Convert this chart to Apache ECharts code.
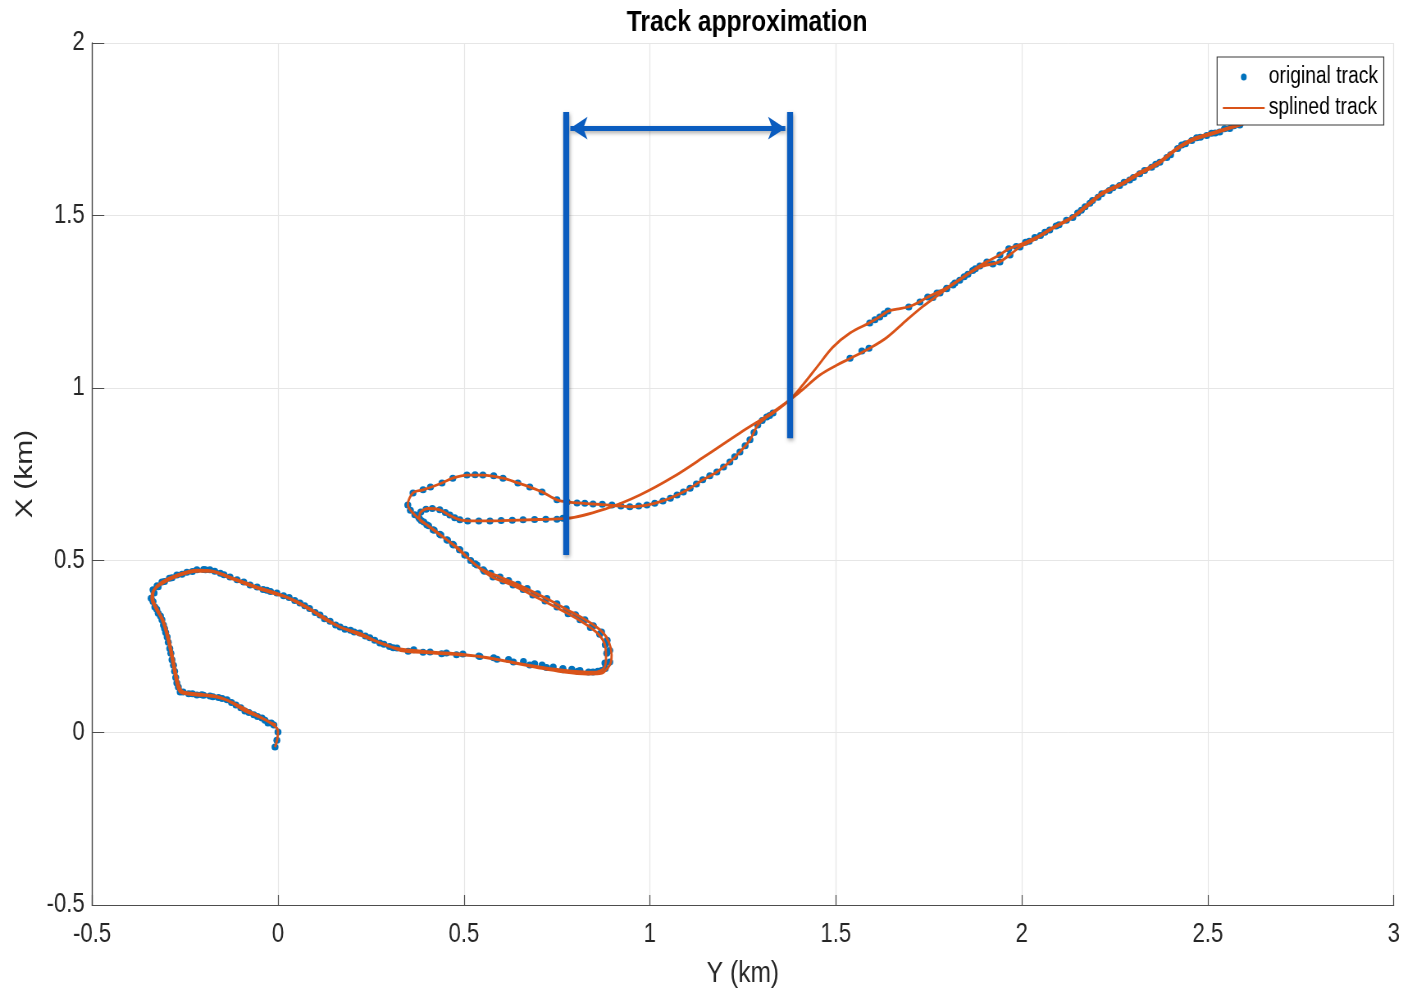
<!DOCTYPE html>
<html>
<head>
<meta charset="utf-8">
<script src="https://cdn.jsdelivr.net/npm/echarts@6/dist/echarts.min.js"></script>
<style>
html,body{margin:0;padding:0;background:#fff;overflow:hidden;width:1409px;height:991px;}
#chart{width:1718px;height:991px;transform:scaleX(0.82);transform-origin:0 0;}
</style>
</head>
<body>
<div id="chart"></div>
<script>
// ---- data: [Y (km), X (km)] ----
var pass1Dots = [
[-0.008,-0.042],[-0.003,-0.022],[0.000,0.002],[-0.011,0.022],[-0.027,0.028],[-0.043,0.042],[-0.065,0.052],[-0.089,0.063],[-0.113,0.080],[-0.137,0.095],
[-0.160,0.102],[-0.183,0.106],[-0.200,0.108],[-0.218,0.109],[-0.240,0.113],[-0.263,0.118],[-0.272,0.144],[-0.278,0.178],[-0.285,0.211],[-0.291,0.244],
[-0.298,0.277],[-0.305,0.302],[-0.312,0.327],[-0.322,0.346],[-0.331,0.364],[-0.341,0.390],[-0.336,0.414],[-0.325,0.426],[-0.312,0.437],[-0.292,0.448],
[-0.272,0.457],[-0.245,0.465],[-0.218,0.472],[-0.200,0.473],[-0.183,0.472],[-0.155,0.462],[-0.129,0.451],[-0.092,0.437],[-0.056,0.422],[-0.030,0.413],
[-0.003,0.405],[0.030,0.392],[0.059,0.376],[0.085,0.360],[0.113,0.341],[0.140,0.323],[0.167,0.306],[0.195,0.297],[0.220,0.289],[0.247,0.275],
[0.274,0.260],[0.300,0.250],[0.320,0.245],[0.365,0.240],[0.409,0.234],[0.453,0.231],[0.497,0.228],[0.543,0.221],[0.589,0.213],[0.633,0.205],
[0.677,0.196],[0.722,0.189],[0.766,0.182],[0.806,0.178],[0.847,0.176],[0.870,0.180],[0.879,0.202],[0.884,0.230],[0.880,0.255],[0.865,0.285],
[0.840,0.305],[0.812,0.327],[0.780,0.345],[0.750,0.364],[0.718,0.382],[0.685,0.399],[0.659,0.415],[0.632,0.428],[0.605,0.440],[0.578,0.451],
[0.555,0.468],[0.530,0.490],[0.505,0.515],[0.489,0.530],[0.470,0.546],[0.454,0.559],[0.435,0.575],[0.417,0.588],[0.400,0.603],[0.385,0.615],
[0.378,0.625],[0.384,0.640],[0.398,0.648],[0.415,0.650],[0.435,0.646],[0.450,0.638],[0.462,0.631],[0.475,0.623],[0.489,0.617],[0.510,0.614],
[0.540,0.614],[0.570,0.614],[0.600,0.615],[0.630,0.616],[0.659,0.617],[0.690,0.618],[0.720,0.619],[0.750,0.619],[0.766,0.622],
[1.538,1.086],[1.570,1.107],[1.589,1.115],
[1.761,1.262],[1.780,1.275],[1.798,1.287],[1.815,1.298],[1.833,1.312],[1.855,1.329],[1.875,1.345],[1.922,1.359],[1.941,1.365],[1.968,1.385],
[1.995,1.408],[2.020,1.425],[2.050,1.442],[2.075,1.458],[2.100,1.473],[2.137,1.494],[2.160,1.515],[2.183,1.535],[2.205,1.553],[2.235,1.572],
[2.263,1.587],[2.290,1.603],[2.317,1.621],[2.349,1.640],[2.371,1.654],[2.390,1.668],[2.419,1.694],[2.440,1.708],[2.457,1.717],[2.480,1.727],
[2.497,1.732],[2.520,1.739],[2.532,1.742],[2.559,1.752],[2.586,1.762]
];
var pass2Dots = [
[2.570,1.760],[2.545,1.751],[2.510,1.738],[2.470,1.725],[2.430,1.704],[2.400,1.676],[2.360,1.648],[2.330,1.630],[2.300,1.610],[2.275,1.596],
[2.245,1.580],[2.215,1.563],[2.190,1.543],[2.170,1.525],[2.150,1.507],[2.120,1.486],[2.092,1.469],[2.062,1.451],[2.035,1.436],[2.010,1.422],
[1.985,1.410],[1.965,1.403],[1.941,1.385],[1.906,1.365],[1.887,1.353],[1.868,1.340],[1.845,1.322],[1.820,1.304],[1.798,1.289],[1.772,1.275],
[1.747,1.263],[1.726,1.249],[1.696,1.234],[1.640,1.223],[1.630,1.215],[1.618,1.205],[1.605,1.197],[1.591,1.188],
[1.331,0.927],[1.322,0.920],[1.314,0.915],[1.302,0.905],[1.290,0.892],[1.280,0.870],[1.269,0.849],[1.256,0.832],[1.242,0.814],[1.228,0.800],
[1.215,0.785],[1.198,0.770],[1.180,0.756],[1.161,0.745],[1.142,0.733],[1.125,0.721],[1.108,0.709],[1.090,0.698],[1.073,0.689],[1.055,0.680],
[1.035,0.672],[1.013,0.665],[0.992,0.660],[0.970,0.657],[0.946,0.655],[0.922,0.657],[0.898,0.660],[0.872,0.662],[0.847,0.663],[0.825,0.665],
[0.804,0.666],[0.777,0.669],[0.750,0.675],[0.710,0.698],[0.677,0.712],[0.645,0.724],[0.605,0.738],[0.580,0.745],[0.551,0.747],[0.530,0.748],
[0.508,0.747],[0.470,0.738],[0.441,0.724],[0.410,0.712],[0.390,0.704],[0.363,0.695],[0.349,0.660],[0.356,0.645],[0.368,0.632],[0.380,0.621],
[0.392,0.611],[0.405,0.600],[0.420,0.587],[0.438,0.573],[0.456,0.558],[0.472,0.544],[0.488,0.530],[0.502,0.515],[0.518,0.499],[0.535,0.486],
[0.552,0.472],[0.572,0.462],[0.597,0.451],[0.620,0.441],[0.645,0.430],[0.670,0.418],[0.698,0.403],[0.723,0.389],[0.750,0.374],[0.775,0.359],
[0.800,0.342],[0.825,0.327],[0.848,0.310],[0.870,0.292],[0.885,0.268],[0.892,0.238],[0.892,0.205],[0.880,0.186],[0.860,0.178],[0.835,0.176],
[0.812,0.180],[0.790,0.184],[0.766,0.186],[0.740,0.190],[0.710,0.196],[0.690,0.200],[0.660,0.206],[0.620,0.212],[0.580,0.217],[0.540,0.222],
[0.480,0.226],[0.440,0.229],[0.390,0.233],[0.350,0.236],[0.310,0.246],[0.285,0.256],[0.260,0.268],[0.235,0.280],[0.205,0.292],[0.180,0.300],
[0.155,0.312],[0.125,0.330],[0.100,0.348],[0.072,0.368],[0.045,0.383],[0.015,0.397],[-0.020,0.409],[-0.040,0.415],[-0.075,0.428],[-0.110,0.443],
[-0.145,0.458],[-0.170,0.468],[-0.195,0.472],[-0.230,0.467],[-0.258,0.459],[-0.285,0.449],[-0.305,0.438],[-0.322,0.423],[-0.333,0.405],[-0.336,0.380],
[-0.326,0.358],[-0.316,0.338],[-0.308,0.312],[-0.302,0.290],[-0.295,0.262],[-0.288,0.230],[-0.281,0.195],[-0.275,0.160],[-0.268,0.132],[-0.255,0.118],
[-0.230,0.113],[-0.205,0.110],[-0.175,0.104],[-0.150,0.099],[-0.125,0.087],[-0.100,0.072],[-0.078,0.058],[-0.055,0.047],[-0.035,0.036],[-0.018,0.028]
];
var pass1Spline = [
[-0.008,-0.042],[-0.002,-0.020],[0.000,0.005],[-0.012,0.022],[-0.043,0.042],[-0.089,0.063],[-0.137,0.094],[-0.183,0.106],[-0.218,0.109],[-0.262,0.117],
[-0.272,0.140],[-0.285,0.211],[-0.298,0.277],[-0.312,0.327],[-0.331,0.364],[-0.340,0.390],[-0.334,0.414],[-0.312,0.437],[-0.272,0.457],[-0.218,0.471],
[-0.183,0.470],[-0.129,0.451],[-0.056,0.422],[-0.003,0.404],[0.059,0.376],[0.113,0.341],[0.167,0.306],[0.220,0.288],[0.274,0.260],[0.320,0.244],
[0.409,0.234],[0.497,0.227],[0.589,0.212],[0.677,0.195],[0.766,0.181],[0.847,0.175],[0.875,0.185],[0.882,0.215],[0.880,0.250],[0.862,0.285],
[0.812,0.325],[0.750,0.362],[0.685,0.398],[0.632,0.427],[0.578,0.450],[0.543,0.476],[0.505,0.512],[0.470,0.545],[0.433,0.577],[0.400,0.603],
[0.380,0.620],[0.383,0.638],[0.405,0.650],[0.435,0.646],[0.462,0.630],[0.490,0.617],[0.524,0.614],[0.600,0.615],[0.700,0.618],[0.777,0.621],
[0.884,0.650],[0.973,0.689],[1.062,0.741],[1.153,0.805],[1.242,0.869],[1.331,0.930],[1.400,0.985],[1.457,1.037],[1.503,1.066],[1.538,1.085],
[1.591,1.115],[1.637,1.146],[1.691,1.197],[1.734,1.236],[1.770,1.265],[1.833,1.313],[1.887,1.350],[1.941,1.366],[1.995,1.408],[2.040,1.434],
[2.083,1.462],[2.137,1.494],[2.183,1.533],[2.218,1.563],[2.263,1.586],[2.317,1.620],[2.371,1.652],[2.419,1.693],[2.457,1.716],[2.497,1.731],
[2.559,1.752],[2.620,1.775],[2.680,1.800]
];
var pass2Spline = [
[2.620,1.778],[2.559,1.755],[2.497,1.735],[2.457,1.721],[2.419,1.697],[2.371,1.657],[2.317,1.625],[2.263,1.590],[2.218,1.567],[2.183,1.538],
[2.137,1.497],[2.083,1.465],[2.040,1.437],[1.995,1.415],[1.965,1.403],[1.941,1.386],[1.906,1.366],[1.887,1.354],[1.855,1.331],[1.820,1.305],
[1.798,1.290],[1.772,1.276],[1.747,1.263],[1.726,1.250],[1.696,1.235],[1.664,1.228],[1.640,1.222],[1.618,1.206],[1.591,1.189],[1.538,1.159],
[1.492,1.118],[1.449,1.060],[1.411,1.008],[1.376,0.965],[1.331,0.927],[1.314,0.915],[1.290,0.892],[1.269,0.849],[1.242,0.814],[1.215,0.785],
[1.180,0.756],[1.142,0.733],[1.108,0.709],[1.073,0.689],[1.035,0.672],[0.992,0.660],[0.946,0.655],[0.898,0.659],[0.847,0.663],[0.804,0.666],
[0.777,0.669],[0.750,0.675],[0.710,0.698],[0.677,0.712],[0.645,0.724],[0.605,0.738],[0.551,0.747],[0.508,0.747],[0.470,0.738],[0.441,0.724],
[0.390,0.704],[0.363,0.695],[0.349,0.661],[0.368,0.631],[0.390,0.611],[0.417,0.588],[0.454,0.559],[0.489,0.530],[0.516,0.501],[0.551,0.472],
[0.597,0.451],[0.659,0.422],[0.723,0.388],[0.780,0.355],[0.830,0.325],[0.872,0.292],[0.890,0.262],[0.897,0.225],[0.892,0.196],[0.865,0.171],
[0.830,0.170],[0.766,0.176],[0.700,0.188],[0.630,0.203],[0.560,0.218],[0.497,0.225],[0.409,0.231],[0.330,0.238],[0.290,0.255],[0.247,0.272],
[0.195,0.294],[0.140,0.320],[0.085,0.357],[0.030,0.389],[-0.003,0.401],[-0.056,0.419],[-0.129,0.448],[-0.183,0.468],[-0.218,0.468],[-0.272,0.453],
[-0.312,0.432],[-0.334,0.410],[-0.336,0.388],[-0.326,0.362],[-0.308,0.325],[-0.294,0.277],[-0.281,0.211],[-0.268,0.144],[-0.258,0.120],[-0.240,0.115],
[-0.200,0.110],[-0.160,0.104],[-0.113,0.082],[-0.065,0.055],[-0.027,0.033],[-0.005,0.022]
];
// annotation bracket (data coords)
var bracketLeftY = 0.774, bracketRightY = 1.376;
var bracketTopX = 1.80, bracketLeftBottomX = 0.515, bracketRightBottomX = 0.854, arrowX = 1.753;

var xTicks = {min:-0.5, max:3, step:0.5};
var yTicks = {min:-0.5, max:2, step:0.5};

// the figure is drawn 1/0.82 wider and squeezed horizontally by CSS (narrow look of the original)
var fontFam = "'Liberation Sans', Arial, Helvetica, sans-serif";
var axisCol = '#4d4d4d';
var annCol = '#0a5cbf';

var chart = echarts.init(document.getElementById('chart'), null, {renderer:'canvas'});
chart.setOption({
  animation:false,
  backgroundColor:'#ffffff',
  title:{
    text:'Track approximation', left:906, top:3, textAlign:'center',
    textStyle:{fontFamily:fontFam, fontWeight:'bold', fontSize:30, color:'#000'}
  },
  grid:{left:112.2, right:18.3, top:43, bottom:86, containLabel:false, outerBoundsMode:'none'},
  legend:{
    orient:'vertical', right:30.5, top:57,
    backgroundColor:'#ffffff', borderColor:'#3a3a3a', borderWidth:1.2,
    padding:[7,7,4,6], itemGap:5, itemWidth:51, itemHeight:7, itemTextGap:6,
    textStyle:{fontFamily:fontFam, fontSize:23.5, color:'#000', lineHeight:26},
    data:[{name:'original track', icon:'circle'},{name:'splined track', itemStyle:{opacity:0}}]
  },
  xAxis:{
    type:'value', min:xTicks.min, max:xTicks.max, interval:xTicks.step,
    name:'Y (km)', nameLocation:'middle', nameGap:54,
    nameTextStyle:{fontFamily:fontFam, fontSize:30, color:'#262626'},
    axisLine:{show:true, onZero:false, lineStyle:{color:axisCol, width:1.2}},
    axisTick:{show:true, inside:true, length:10, lineStyle:{color:axisCol, width:1.2}},
    axisLabel:{fontFamily:fontFam, fontSize:27, color:'#262626', margin:16},
    splitLine:{show:true, lineStyle:{color:'#e6e6e6', width:1.2}}
  },
  yAxis:{
    type:'value', min:yTicks.min, max:yTicks.max, interval:yTicks.step,
    name:'X (km)', nameLocation:'middle', nameGap:55, nameRotate:90,
    nameTextStyle:{fontFamily:fontFam, fontSize:30, color:'#262626'},
    axisLine:{show:true, onZero:false, lineStyle:{color:axisCol, width:1.4}},
    axisTick:{show:true, inside:true, length:15, lineStyle:{color:axisCol}},
    axisLabel:{fontFamily:fontFam, fontSize:27, color:'#262626', margin:9},
    splitLine:{show:true, lineStyle:{color:'#e6e6e6', width:1}}
  },
  series:[
    {
      name:'original track', type:'scatter', z:2,
      symbol:'circle', symbolSize:[8.5,7],
      itemStyle:{color:'#0072BD', opacity:1},
      data:pass1Dots.concat(pass2Dots)
    },
    {
      name:'splined track', type:'line', z:3,
      showSymbol:false, symbol:'none', smooth:0.35,
      lineStyle:{color:'#D95319', width:2.8},
      itemStyle:{color:'#D95319'},
      data:pass1Spline.concat(pass2Spline),
      markLine:{
        silent:true, animation:false, symbol:['none','none'],
        label:{show:false}, emphasis:{disabled:true},
        lineStyle:{color:annCol, type:'solid', width:7.3, shadowBlur:4, shadowColor:'rgba(0,0,0,0.35)', shadowOffsetX:1, shadowOffsetY:2},
        data:[
          [{coord:[bracketLeftY, bracketTopX]},{coord:[bracketLeftY, bracketLeftBottomX]}],
          [{coord:[bracketRightY, bracketTopX]},{coord:[bracketRightY, bracketRightBottomX]}],
          [{coord:[bracketLeftY+0.012, arrowX], symbol:'arrow', symbolSize:[17,21], lineStyle:{width:5}},
           {coord:[bracketRightY-0.012, arrowX], symbol:'arrow', symbolSize:[17,21]}]
        ]
      }
    }
  ]
});
</script>
</body>
</html>
